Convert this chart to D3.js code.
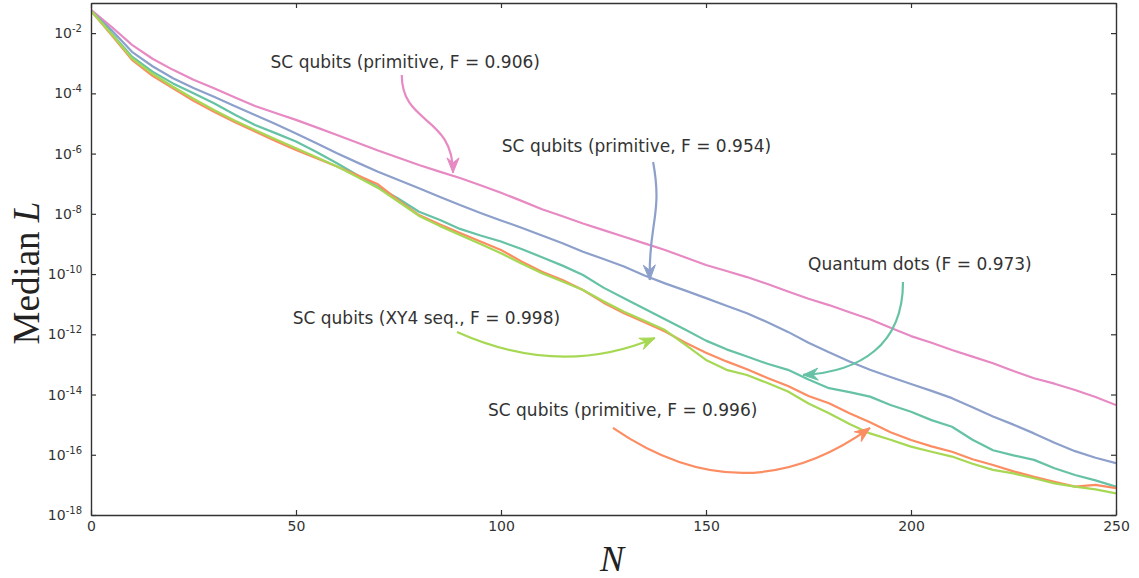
<!DOCTYPE html>
<html>
<head>
<meta charset="utf-8">
<script src="https://cdn.jsdelivr.net/npm/d3@7"></script>
<style>
  html, body { margin: 0; padding: 0; background: #fff; }
  svg text { font-family: "DejaVu Sans", sans-serif; }
</style>
</head>
<body>
<svg id="chart" width="1139" height="578"></svg>
<script>
// sequence length N (x values shared by every series)
const stepsN = [0, 5, 10, 15, 20, 25, 30, 35, 40, 45, 50, 55, 60, 65, 70, 75, 80, 85, 90, 95,
  100, 105, 110, 115, 120, 125, 130, 135, 140, 145, 150, 155, 160, 165, 170, 175, 180, 185, 190, 195,
  200, 205, 210, 215, 220, 225, 230, 235, 240, 245, 250];

// log10 of median L
const logL_sc906 = [-1.23, -1.79, -2.39, -2.85, -3.22, -3.55, -3.83, -4.13, -4.42, -4.65, -4.88, -5.13, -5.38, -5.64, -5.9, -6.14, -6.38, -6.6, -6.81, -7.05,
  -7.3, -7.57, -7.85, -8.08, -8.32, -8.54, -8.76, -8.98, -9.2, -9.45, -9.7, -9.9, -10.1, -10.33, -10.58, -10.82, -11.03, -11.27, -11.5, -11.78,
  -12.06, -12.28, -12.52, -12.74, -12.96, -13.22, -13.46, -13.64, -13.85, -14.08, -14.35];
const logL_sc954 = [-1.26, -1.9, -2.62, -3.1, -3.5, -3.82, -4.11, -4.42, -4.72, -5.02, -5.33, -5.66, -5.99, -6.3, -6.6, -6.88, -7.15, -7.43, -7.71, -7.97,
  -8.22, -8.46, -8.72, -8.98, -9.26, -9.5, -9.75, -10.05, -10.31, -10.55, -10.8, -11.05, -11.3, -11.6, -11.92, -12.28, -12.6, -12.9, -13.18, -13.42,
  -13.65, -13.88, -14.12, -14.42, -14.73, -15.0, -15.29, -15.6, -15.88, -16.1, -16.28];
const logL_qd973 = [-1.26, -2.0, -2.78, -3.28, -3.67, -4.0, -4.33, -4.7, -5.05, -5.32, -5.6, -5.95, -6.32, -6.72, -7.11, -7.5, -7.93, -8.2, -8.5, -8.72,
  -8.92, -9.17, -9.44, -9.72, -10.03, -10.45, -10.8, -11.15, -11.5, -11.85, -12.21, -12.5, -12.74, -12.98, -13.18, -13.5, -13.79, -13.92, -14.07, -14.35,
  -14.57, -14.85, -15.07, -15.5, -15.85, -16.02, -16.17, -16.45, -16.67, -16.85, -17.06];
const logL_sc996 = [-1.26, -2.06, -2.89, -3.42, -3.83, -4.25, -4.61, -4.95, -5.27, -5.58, -5.88, -6.15, -6.43, -6.72, -7.02, -7.55, -8.04, -8.35, -8.64, -8.92,
  -9.2, -9.58, -9.92, -10.2, -10.53, -10.95, -11.3, -11.6, -11.91, -12.28, -12.61, -12.9, -13.16, -13.45, -13.72, -14.05, -14.29, -14.62, -14.92, -15.25,
  -15.51, -15.72, -15.9, -16.15, -16.34, -16.55, -16.73, -16.9, -17.06, -17.0, -17.11];
const logL_xy4 = [-1.26, -2.03, -2.84, -3.35, -3.78, -4.18, -4.55, -4.9, -5.22, -5.52, -5.82, -6.12, -6.43, -6.78, -7.14, -7.6, -8.07, -8.4, -8.7, -9.0,
  -9.31, -9.65, -9.97, -10.25, -10.53, -10.9, -11.25, -11.55, -11.86, -12.35, -12.85, -13.18, -13.35, -13.62, -13.9, -14.3, -14.62, -14.98, -15.29, -15.5,
  -15.73, -15.9, -16.06, -16.3, -16.5, -16.62, -16.78, -16.95, -17.06, -17.15, -17.28];

const xTicks = [0, 50, 100, 150, 200, 250];
const yExponents = [-2, -4, -6, -8, -10, -12, -14, -16, -18];

const series = [
  { values: logL_sc906, color: '#e78ac3' },
  { values: logL_sc954, color: '#8da0cb' },
  { values: logL_qd973, color: '#66c2a5' },
  { values: logL_sc996, color: '#fc8d62' },
  { values: logL_xy4,   color: '#a6d854' }
];

// annotations in data coords: [N, log10 L]
const notes = [
  { text: 'SC qubits (primitive, F = 0.906)', color: '#e78ac3', at: [43.8, -3.16],
    path: [[75.8, -3.39], [75.8, -5.05], [88.3, -4.72], [88.3, -6.64]] },
  { text: 'SC qubits (primitive, F = 0.954)', color: '#8da0cb', at: [100.2, -5.96],
    path: [[137.1, -6.28], [139.5, -8.04], [135.85, -8.37], [136.3, -10.2]] },
  { text: 'Quantum dots (F = 0.973)', color: '#66c2a5', at: [174.9, -9.87],
    path: [[198.05, -10.26], [198.05, -12.36], [187.56, -13.25], [173.66, -13.35]] },
  { text: 'SC qubits (XY4 seq., F = 0.998)', color: '#a6d854', at: [49.2, -11.67],
    path: [[89.27, -11.92], [114.4, -13.45], [137.56, -12.12]] },
  { text: 'SC qubits (primitive, F = 0.996)', color: '#fc8d62', at: [96.83, -14.71],
    path: [[127.3, -15.11], [159.3, -18.1], [190, -15.11]] }
];

const svg = d3.select('#chart');
const plotL = 91, plotR = 1116, plotT = 3, plotB = 515;
const axisColor = '#333';

const x = d3.scaleLinear().domain([0, 250]).range([plotL, plotR]);
const y = d3.scaleLog().domain([1e-18, 1e-1]).range([plotB, plotT]);
const py = v => y(Math.pow(10, v));

svg.append('defs').append('clipPath').attr('id', 'plot')
  .append('rect').attr('x', plotL).attr('y', plotT)
  .attr('width', plotR - plotL).attr('height', plotB - plotT);

// series lines
const line = d3.line()
  .x((d, i) => x(stepsN[i]))
  .y(d => py(d));

svg.append('g').attr('clip-path', 'url(#plot)')
  .selectAll('path')
  .data(series)
  .enter()
  .append('path')
  .attr('d', d => line(d.values))
  .style('fill', 'none')
  .style('stroke', d => d.color)
  .style('stroke-width', 2.2)
  .style('stroke-linejoin', 'round');

// axes, ticks pointing inward
const yTickVals = yExponents.map(e => Math.pow(10, e));

const gLeft = svg.append('g').attr('transform', `translate(${plotL},0)`)
  .call(d3.axisLeft(y).tickValues(yTickVals).tickSizeInner(-5).tickSizeOuter(0).tickPadding(9));
const gBottom = svg.append('g').attr('transform', `translate(0,${plotB})`)
  .call(d3.axisBottom(x).tickValues(xTicks).tickSizeInner(-5).tickSizeOuter(0).tickPadding(6).tickFormat(d3.format('d')));
const gTop = svg.append('g').attr('transform', `translate(0,${plotT})`)
  .call(d3.axisTop(x).tickValues(xTicks).tickSizeInner(-5).tickSizeOuter(0).tickFormat(() => ''));
const gRight = svg.append('g').attr('transform', `translate(${plotR},0)`)
  .call(d3.axisRight(y).tickValues(yTickVals).tickSizeInner(-5).tickSizeOuter(0).tickFormat(() => ''));

[gLeft, gBottom, gTop, gRight].forEach(g => {
  g.attr('font-family', '"DejaVu Sans", sans-serif').attr('font-size', 14);
  g.select('.domain').style('stroke', axisColor).style('stroke-width', 1.4);
  g.selectAll('.tick line').style('stroke', axisColor).style('stroke-width', 1.2);
  g.selectAll('.tick text').style('fill', axisColor);
});

// 10^-n labels
gLeft.selectAll('.tick text').each(function (d) {
  const t = d3.select(this).text(null);
  t.append('tspan').text('10');
  t.append('tspan').attr('dy', -6).attr('font-size', 10).text(String(Math.round(Math.log10(d))));
});

// axis titles
const yTitle = svg.append('text')
  .attr('transform', 'translate(39,273) rotate(-90)')
  .attr('text-anchor', 'middle')
  .style('font-family', '"Liberation Serif", "Times New Roman", serif')
  .style('font-size', '37px')
  .style('fill', '#222');
yTitle.append('tspan').text('Median ');
yTitle.append('tspan').style('font-style', 'italic').text('L');

svg.append('text')
  .attr('x', 612).attr('y', 571)
  .attr('text-anchor', 'middle')
  .style('font-family', '"Liberation Serif", "Times New Roman", serif')
  .style('font-size', '36px')
  .style('font-style', 'italic')
  .style('fill', '#222')
  .text('N');

// annotations with curved arrows
const pt = p => [x(p[0]), py(p[1])];

notes.forEach(n => {
  svg.append('text')
    .attr('x', x(n.at[0])).attr('y', py(n.at[1]))
    .style('font-size', '17px')
    .style('fill', '#333')
    .text(n.text);

  const p = n.path.map(pt);
  let d;
  if (p.length === 4) {
    d = `M${p[0]} C${p[1]} ${p[2]} ${p[3]}`;
  } else {
    d = `M${p[0]} Q${p[1]} ${p[2]}`;
  }
  svg.append('path')
    .attr('d', d)
    .style('fill', 'none')
    .style('stroke', n.color)
    .style('stroke-width', 2.2);

  // arrow head along the end tangent
  const tip = p[p.length - 1], prev = p[p.length - 2];
  const ang = Math.atan2(tip[1] - prev[1], tip[0] - prev[0]);
  const len = 15, half = 6, notch = 10;
  const back = (l, w) => [
    tip[0] - l * Math.cos(ang) - w * Math.sin(ang),
    tip[1] - l * Math.sin(ang) + w * Math.cos(ang)
  ];
  svg.append('path')
    .attr('d', `M${tip} L${back(len, half)} L${back(notch, 0)} L${back(len, -half)} Z`)
    .style('fill', n.color)
    .style('stroke', n.color)
    .style('stroke-width', 1)
    .style('stroke-linejoin', 'miter');
});
</script>
</body>
</html>
